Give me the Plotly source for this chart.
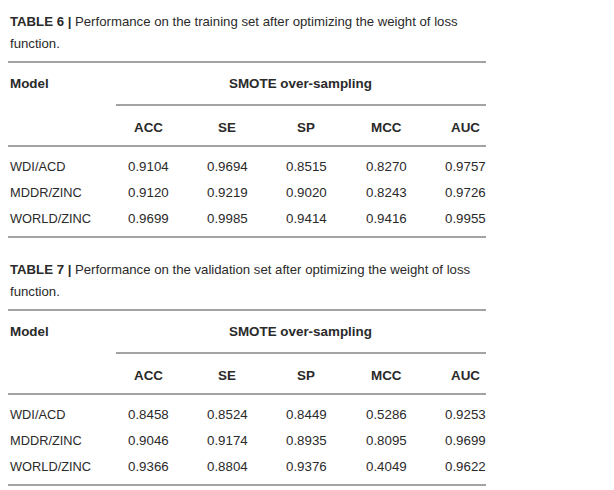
import plotly.graph_objects as go

# ---- data ----
models = ["WDI/ACD", "MDDR/ZINC", "WORLD/ZINC"]
metrics = ["ACC", "SE", "SP", "MCC", "AUC"]
group_label = "SMOTE over-sampling"
train_acc = [0.9104, 0.9120, 0.9699]
train_se = [0.9694, 0.9219, 0.9985]
train_sp = [0.8515, 0.9020, 0.9414]
train_mcc = [0.8270, 0.8243, 0.9416]
train_auc = [0.9757, 0.9726, 0.9955]
val_acc = [0.8458, 0.9046, 0.9366]
val_se = [0.8524, 0.9174, 0.8804]
val_sp = [0.8449, 0.8935, 0.9376]
val_mcc = [0.5286, 0.8095, 0.4049]
val_auc = [0.9253, 0.9699, 0.9622]
title6_bold = "TABLE 6 |"
title6_text = ["Performance on the training set after optimizing the weight of loss", "function."]
title7_bold = "TABLE 7 |"
title7_text = ["Performance on the validation set after optimizing the weight of loss", "function."]

# ---- styling / layout ----
W, H = 614, 490
FONT = "Liberation Sans, Arial, sans-serif"
TXT = "#2a2a2a"
RULE = "#a3a3a3"
col_x = [148, 227, 306, 386, 465]
x_left = 8
x_right = 486
x_sub = 116

fig = go.Figure()
fig.add_trace(go.Scatter(x=[0, W], y=[0, H], mode="markers", marker=dict(opacity=0), hoverinfo="skip", showlegend=False))


def txt(x, y, s, anchor="left", bold=False, size=13.4):
    fig.add_annotation(x=x, y=y, xref="x", yref="y", text=(f"<b>{s}</b>" if bold else s),
                       showarrow=False, xanchor=anchor, yanchor="middle",
                       font=dict(family=FONT, size=size, color=TXT))


def rule(x0, x1, y):
    fig.add_shape(type="line", xref="x", yref="y", x0=x0, x1=x1, y0=y, y1=y,
                  line=dict(color=RULE, width=2))


def table(y0, tb, ttext, cols):
    txt(x_left, y0, f"<b>{tb}</b> {ttext[0]}", size=13.2)
    txt(x_left, y0 + 22, ttext[1], size=13.2)
    rule(x_left, x_right, y0 + 41)
    txt(x_left, y0 + 62, "Model", bold=True, size=13.4)
    txt(300, y0 + 62, group_label, anchor="center", bold=True, size=13.4)
    rule(x_sub, x_right, y0 + 84)
    for cx, m in zip(col_x, metrics):
        txt(cx, y0 + 106, m, anchor="center", bold=True, size=13.4)
    rule(x_left, x_right, y0 + 125)
    for i, mdl in enumerate(models):
        ry = y0 + 145 + i * 26
        txt(x_left, ry, mdl, size=12.8)
        for cx, col in zip(col_x, cols):
            txt(cx, ry, f"{col[i]:.4f}", anchor="center", size=13.3)
    rule(x_left, x_right, y0 + 216)


table(21, title6_bold, title6_text, [train_acc, train_se, train_sp, train_mcc, train_auc])
table(269, title7_bold, title7_text, [val_acc, val_se, val_sp, val_mcc, val_auc])

fig.update_layout(width=W, height=H, margin=dict(l=0, r=0, t=0, b=0),
                  paper_bgcolor="white", plot_bgcolor="white", showlegend=False,
                  xaxis=dict(range=[0, W], visible=False, fixedrange=True),
                  yaxis=dict(range=[H, 0], visible=False, fixedrange=True))
fig.write_html("out.html", config={"displayModeBar": False},
               post_script="document.body.style.margin='0';document.body.style.overflow='hidden';")
